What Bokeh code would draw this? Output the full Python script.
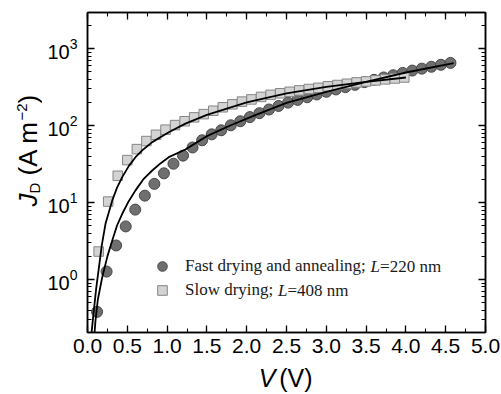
import math
from bokeh.plotting import figure
from bokeh.layouts import row, column
from bokeh.core.properties import value
from bokeh.models import (Range1d, LinearAxis, LogAxis, SingleIntervalTicker, LogTicker,
                          PrintfTickFormatter, CustomJSTickFormatter, Label, Legend, LegendItem)
from bokeh.embed import file_html
from bokeh.resources import INLINE

# ---------------- data ----------------
fast_v = [0.12, 0.24, 0.36, 0.48, 0.60, 0.72, 0.84, 0.96, 1.08, 1.20, 1.32, 1.44, 1.56,
          1.68, 1.80, 1.92, 2.04, 2.16, 2.28, 2.40, 2.52, 2.64, 2.76, 2.88, 3.00, 3.12,
          3.24, 3.36, 3.48, 3.60, 3.72, 3.84, 3.96, 4.08, 4.20, 4.32, 4.44, 4.56]
fast_j = [0.38, 1.27, 2.77, 4.9, 8.1, 12.3, 17.5, 24, 32, 40.7, 52, 64.5, 77,
          87, 101, 114, 129, 145, 162, 180, 199, 216, 234, 254, 275, 295,
          316, 339, 367, 394, 422, 452, 484, 519, 550, 582, 617, 653]

slow_v = [0.14, 0.26, 0.38, 0.50, 0.62, 0.74, 0.86, 0.98, 1.10, 1.22, 1.34, 1.46, 1.58,
          1.70, 1.82, 1.94, 2.06, 2.18, 2.30, 2.42, 2.54, 2.66, 2.78, 2.90, 3.02, 3.14,
          3.26, 3.38, 3.50, 3.62, 3.74, 3.86, 3.98]
slow_j = [2.31, 10.3, 22.3, 35.6, 49.5, 63, 76, 88.5, 101.6, 114, 128, 141, 156,
          173, 189, 205, 219, 236, 251, 263, 275, 287, 299, 310, 324, 337,
          350, 364, 375, 387, 399, 410, 422]

fit_fast_v = [0.088, 0.10, 0.13, 0.185, 0.25, 0.31, 0.37, 0.436, 0.52, 0.603, 0.70, 0.813,
              0.92, 1.021, 1.23, 1.5, 1.8, 2.1, 2.5, 3.0, 3.5, 4.0, 4.6]
fit_fast_j = [0.2, 0.29, 0.55, 1.07, 2.0, 3.2, 5.0, 7.15, 10.5, 14.4, 20, 26.1,
              32.5, 38.9, 49, 73, 101, 136, 197, 275, 370, 490, 650]

fit_slow_v = [0.05, 0.08, 0.11, 0.142, 0.18, 0.226, 0.31, 0.37, 0.436, 0.52, 0.603, 0.70,
              0.813, 1.021, 1.23, 1.5, 2.0, 2.5, 3.0, 3.5, 4.0]
fit_slow_j = [0.2, 0.4, 0.78, 1.4, 2.8, 5.3, 10.6, 15.5, 21.4, 30, 38.9, 49,
              61, 82, 106, 138, 200, 262, 318, 370, 422]

legend_labels = ["Fast drying and annealing; ", "Slow drying; "]
legend_tails = ["=220 nm", "=408 nm"]

X0, X1 = 0.0, 5.0
Y0, Y1 = 0.205, 2950.0

# ---------------- page layout (pixels) ----------------
PAGE_W, PAGE_H = 500, 394
STRIP_W = 42                     # left strip holding the y title
MAIN_W = PAGE_W - STRIP_W
MAIN_H = 363
XSTRIP_H = PAGE_H - MAIN_H       # bottom strip holding the x title
FL, FT, FR, FB = 87.0, 12.0, 485.0, 332.0   # frame edges on the page

SANS = "Liberation Sans"
SERIF = "Liberation Serif"
MID = 0.33                       # baseline -> text middle, in em


def dx(px):
    return X0 + (px - FL) * (X1 - X0) / (FR - FL)


def dy(py):
    l0, l1 = math.log10(Y0), math.log10(Y1)
    return 10 ** (l0 + (FB - py) * (l1 - l0) / (FB - FT))


p = figure(width=MAIN_W, height=MAIN_H, x_range=Range1d(X0, X1), y_range=Range1d(Y0, Y1),
           y_axis_type="log", output_backend="svg", toolbar_location=None)
p.min_border = 0
p.min_border_left = int(FL - STRIP_W)
p.min_border_right = int(PAGE_W - FR)
p.min_border_top = int(FT)
p.min_border_bottom = int(MAIN_H - FB)
p.xgrid.visible = False
p.ygrid.visible = False
p.outline_line_color = "black"
p.outline_line_width = 1.5
p.background_fill_color = "white"
p.border_fill_color = "white"


def style_axis(ax, size="21px"):
    ax.axis_line_color = "black"
    ax.axis_line_width = 1.5
    ax.major_tick_line_color = "black"
    ax.major_tick_line_width = 1.3
    ax.minor_tick_line_color = "black"
    ax.minor_tick_line_width = 1.1
    ax.major_tick_in = 7
    ax.major_tick_out = 0
    ax.minor_tick_in = 4
    ax.minor_tick_out = 0
    ax.major_label_text_font = SANS
    ax.major_label_text_font_size = size
    ax.major_label_text_color = "black"


xt = SingleIntervalTicker(interval=0.5, num_minor_ticks=2)
yt = LogTicker(mantissas=[1], num_minor_ticks=10)

xa = p.xaxis[0]
xa.ticker = xt
xa.formatter = PrintfTickFormatter(format="%.1f")
style_axis(xa)
xa.major_label_standoff = 6

ya = p.yaxis[0]
ya.ticker = yt
style_axis(ya, "20px")
ya.major_label_standoff = 10

top = LinearAxis(ticker=xt, formatter=CustomJSTickFormatter(code="return ''"))
style_axis(top)
top.major_label_standoff = 0
p.add_layout(top, "above")
right = LogAxis(ticker=yt, formatter=CustomJSTickFormatter(code="return ''"))
style_axis(right)
right.major_label_standoff = 0
p.add_layout(right, "right")

# ---------------- data marks ----------------
r_fast = p.scatter(fast_v, fast_j, marker="circle", size=11, fill_color="#6f6f6f",
                   line_color="#474747", line_width=1)
r_slow = p.scatter(slow_v, slow_j, marker="square", size=9.5, fill_color="#d3d3d3",
                   line_color="#858585", line_width=1)
p.line(fit_fast_v, fit_fast_j, line_color="black", line_width=1.8)
p.line(fit_slow_v, fit_slow_j, line_color="black", line_width=1.8)

# ---------------- legend ----------------
legend = Legend(items=[LegendItem(label=legend_labels[0], renderers=[r_fast]),
                       LegendItem(label=legend_labels[1], renderers=[r_slow])],
                location=(63, 30), padding=0, margin=0, spacing=0,
                glyph_width=24, glyph_height=24, label_height=24, label_standoff=11,
                label_text_font=SERIF, label_text_font_size="17px",
                label_text_color="#1a1a1a", border_line_alpha=0,
                background_fill_alpha=0)
p.add_layout(legend)

LEG_FS = 17
text_x0 = FL + 63 + 24 + 11
row_y = [FB - 30 - 36, FB - 30 - 12]
part_em = [10.888, 5.445]          # Times metrics of the first part of each entry
for k in range(2):
    lx = text_x0 + part_em[k] * LEG_FS
    p.add_layout(Label(x=dx(lx), y=dy(row_y[k]), text="L", text_font=SERIF,
                       text_font_size=f"{LEG_FS}px", text_font_style="italic",
                       text_baseline="middle", text_color="#1a1a1a"))
    p.add_layout(Label(x=dx(lx + 0.556 * LEG_FS), y=dy(row_y[k]), text=legend_tails[k],
                       text_font=SERIF, text_font_size=f"{LEG_FS}px",
                       text_baseline="middle", text_color="#1a1a1a"))


# ---------------- strips for the axis titles ----------------
def strip(w, h):
    s = figure(width=w, height=h, x_range=Range1d(0, w), y_range=Range1d(0, h),
               output_backend="svg", toolbar_location=None,
               x_axis_location=None, y_axis_location=None)
    s.min_border = 0
    s.min_border_left = 0
    s.min_border_right = 0
    s.min_border_top = 0
    s.min_border_bottom = 0
    s.xgrid.visible = False
    s.ygrid.visible = False
    s.outline_line_color = None
    s.background_fill_color = "white"
    s.border_fill_color = "white"
    return s


Y_FS = 26
X_FS = 25
SUB_FS = 15

# y title: J_D (A m^-2), rotated, reading upwards (page x of the baseline, page y of start)
ys = strip(STRIP_W, PAGE_H)
rot = math.pi / 2


def ytext(t, base_x, py, size, style="normal"):
    # the text middle lies MID em to the left (towards the glyph tops) of the baseline
    ys.text(x=[base_x - MID * size], y=[PAGE_H - py], text=[t], angle=rot,
            text_font=value(SANS), text_font_size=f"{size}px", text_font_style=style,
            text_align="left", text_baseline="middle", text_color="black")


yb = 206.0
ytext("J", 36, yb, Y_FS, "italic")
yb -= 0.5 * Y_FS
ytext("D", 38.5, yb, SUB_FS)
yb -= 0.722 * SUB_FS + 0.278 * Y_FS
ytext("(A m", 36, yb, Y_FS)
yb -= 2.111 * Y_FS
ytext("\u22122", 26, yb, SUB_FS)
yb -= (0.584 + 0.556) * SUB_FS
ytext(")", 36, yb, Y_FS)

# x title: V (V)
xs = strip(MAIN_W, XSTRIP_H)


def xtext(t, px, base_y, size, style="normal"):
    xs.text(x=[px - STRIP_W], y=[PAGE_H - (base_y - MID * size)], text=[t],
            text_font=value(SANS), text_font_size=f"{size}px", text_font_style=style,
            text_align="left", text_baseline="middle", text_color="black")


xtext("V", 239, 386, X_FS, "italic")
xtext("(V)", 239 + (0.667 + 0.278) * X_FS, 386, X_FS)

layout = row(ys, column(p, xs))
open("out.html", "w").write(file_html(layout, INLINE))
